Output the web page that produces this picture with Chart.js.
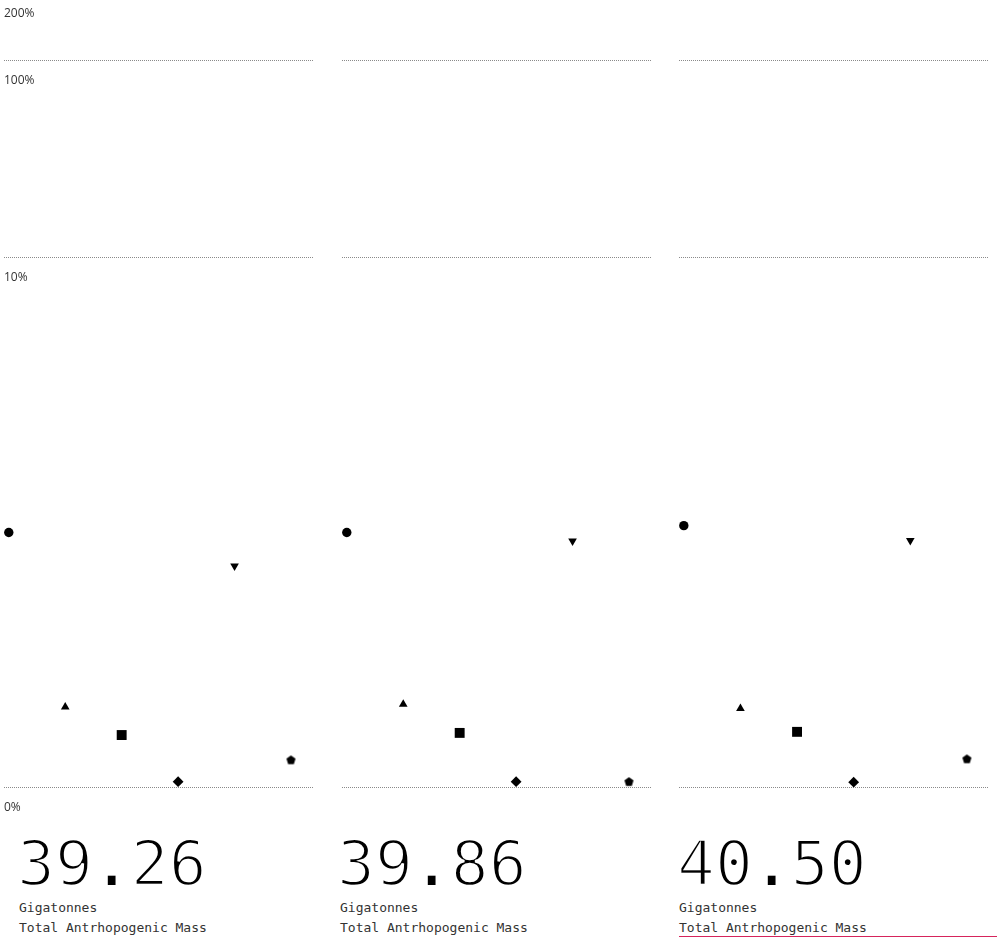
<!DOCTYPE html>
<html>
<head>
<meta charset="utf-8">
<script src="https://cdn.jsdelivr.net/npm/chart.js@4/dist/chart.umd.min.js"></script>
<style>
  html, body { margin: 0; padding: 0; background: #fff; }
  body { width: 997px; height: 938px; overflow: hidden; position: relative; }
  .panel { position: absolute; top: -6px; }
  .total {
    position: absolute; top: 832px;
    font-family: "DejaVu Sans Mono", monospace; font-size: 63px; line-height: 63px;
    color: #000; -webkit-text-stroke: 2.4px #fff; white-space: nowrap;
  }
  .total .dot { -webkit-text-stroke: 0; }
  .caption {
    position: absolute; top: 898px;
    font-family: "DejaVu Sans Mono", monospace; font-size: 13px; line-height: 19.5px;
    color: #333; white-space: nowrap;
  }
  .caption.last { right: 0; border-bottom: 1px solid #d6245c; height: 38px; }
</style>
</head>
<body>
<div class="panel" style="left:4px"><canvas id="c0" width="309" height="830"></canvas></div>
<div class="panel" style="left:342px"><canvas id="c1" width="309" height="830"></canvas></div>
<div class="panel" style="left:679px"><canvas id="c2" width="310" height="830"></canvas></div>

<div class="total" id="t0" style="left:17px"></div>
<div class="total" id="t1" style="left:337px"></div>
<div class="total" id="t2" style="left:677px"></div>
<div class="caption" style="left:19px">Gigatonnes<br>Total Antrhopogenic Mass</div>
<div class="caption" style="left:340px">Gigatonnes<br>Total Antrhopogenic Mass</div>
<div class="caption last" style="left:679px">Gigatonnes<br>Total Antrhopogenic Mass</div>

<script>
// six material groups, one marker each
const categories = ['circle', 'triangle', 'square', 'diamond', 'triangle-down', 'pentagon'];
const totals = ['39.26', '39.86', '40.50'];
// share of total mass, %
const panel1Values = [4.81, 1.52, 0.99, 0.11, 4.18, 0.52];
const panel2Values = [4.81, 1.57, 1.03, 0.11, 4.65, 0.11];
const panel3Values = [4.94, 1.49, 1.05, 0.10, 4.66, 0.54];
const tickValues = [0, 10, 100, 200];

const panels = [panel1Values, panel2Values, panel3Values];

// stepped y scale: each tick band gets its own share of the height
const bandStops = [0, 0.668, 0.9156, 1];
function toDecimal(v) {
  for (let i = 1; i < tickValues.length; i++) {
    if (v <= tickValues[i] || i === tickValues.length - 1) {
      const a = tickValues[i - 1], b = tickValues[i];
      return bandStops[i - 1] + (v - a) / (b - a) * (bandStops[i] - bandStops[i - 1]);
    }
  }
  return 0;
}

class StepScale extends Chart.LinearScale {
  determineDataLimits() {
    this.min = tickValues[0];
    this.max = tickValues[tickValues.length - 1];
  }
  buildTicks() {
    return tickValues.map(v => ({ value: v }));
  }
  getPixelForValue(v) {
    return this.getPixelForDecimal(toDecimal(v));
  }
}
StepScale.id = 'step';
StepScale.defaults = {};
Chart.register(StepScale);

// pentagon marker drawn once
const pentagon = document.createElement('canvas');
pentagon.width = 11; pentagon.height = 11;
(function () {
  const g = pentagon.getContext('2d');
  const r = 4.8;
  g.beginPath();
  for (let i = 0; i < 5; i++) {
    const a = -Math.PI / 2 + i * 2 * Math.PI / 5;
    const x = 5.5 + r * Math.cos(a), y = 5.8 + r * Math.sin(a);
    i ? g.lineTo(x, y) : g.moveTo(x, y);
  }
  g.closePath();
  g.fillStyle = '#000';
  g.fill();
})();

const markerStyle = { circle: 'circle', triangle: 'triangle', square: 'rect', diamond: 'rectRot', 'triangle-down': 'triangle', pentagon: pentagon };
const markerRadius = { circle: 4.7, triangle: 5, square: 7, diamond: 5.4, 'triangle-down': 5, pentagon: 5 };
const markerRotation = { 'triangle-down': 180 };

panels.forEach((values, p) => {
  const el = document.getElementById('t' + p);
  const parts = totals[p].split('.');
  el.innerHTML = parts[0] + '<span class="dot">.</span>' + parts[1];

  new Chart(document.getElementById('c' + p), {
    type: 'scatter',
    data: {
      datasets: [{
        data: values.map((v, i) => ({ x: i, y: v })),
        pointStyle: ctx => markerStyle[categories[ctx.dataIndex]],
        radius: ctx => markerRadius[categories[ctx.dataIndex]],
        rotation: ctx => markerRotation[categories[ctx.dataIndex]] || 0,
        backgroundColor: '#000',
        borderWidth: 0,
        clip: false
      }]
    },
    options: {
      responsive: false,
      animation: false,
      layout: { autoPadding: false, padding: { top: 0, bottom: 36.5, left: 0, right: 0 } },
      plugins: { legend: { display: false }, tooltip: { enabled: false } },
      scales: {
        x: { type: 'linear', display: false, min: -0.085, max: 5.39 },
        y: {
          type: 'step',
          grid: { color: '#8a8a8a', lineWidth: 1, drawTicks: false },
          border: { display: false, dash: [1, 1] },
          ticks: {
            display: p === 0,
            mirror: true,
            padding: 0,
            labelOffset: 20,
            autoSkip: false,
            color: '#333',
            font: { family: 'Open Sans', size: 12 },
            callback: v => v + '%'
          },
          afterFit: s => { s.width = 0; s.paddingTop = 0; s.paddingBottom = 0; }
        }
      }
    }
  });
});
</script>
</body>
</html>
